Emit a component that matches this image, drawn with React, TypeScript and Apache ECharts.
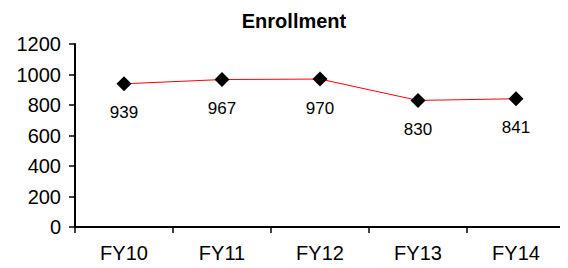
import React, { useEffect, useRef } from "react";
import * as echarts from "echarts";

const categories = ["FY10", "FY11", "FY12", "FY13", "FY14"];
const enrollment = [939, 967, 970, 830, 841];
const chartTitle = "Enrollment";

export default function App() {
  const ref = useRef<HTMLDivElement>(null);
  useEffect(() => {
    const chart = echarts.init(ref.current!, null, { renderer: "svg" });
    chart.setOption({
      animation: false,
      backgroundColor: "#ffffff",
      title: {
        text: chartTitle,
        left: 289,
        textAlign: "center",
        top: 6,
        textStyle: { fontFamily: "Liberation Sans, Arial", fontSize: 20, fontWeight: "bold", color: "#000" },
      },
      grid: { left: 75, right: 3, top: 44, bottom: 41, containLabel: false },
      xAxis: {
        type: "category",
        data: categories,
        boundaryGap: true,
        axisLine: { lineStyle: { color: "#000", width: 2 } },
        axisTick: { show: true, length: 6, lineStyle: { color: "#000", width: 1.5 } },
        axisLabel: { fontFamily: "Liberation Sans, Arial", fontSize: 20, color: "#000", margin: 16 },
      },
      yAxis: {
        type: "value",
        min: 0,
        max: 1200,
        interval: 200,
        splitLine: { show: false },
        axisLine: { show: true, lineStyle: { color: "#000", width: 2 } },
        axisTick: { show: true, length: 6, lineStyle: { color: "#000", width: 1.5 } },
        axisLabel: {
          fontFamily: "Liberation Sans, Arial",
          fontSize: 20,
          color: "#000",
          margin: 14,
          formatter: (v: number) => String(v),
        },
      },
      series: [
        {
          type: "line",
          data: enrollment,
          symbol: "diamond",
          symbolSize: 15,
          itemStyle: { color: "#000" },
          lineStyle: { color: "#ff0000", width: 1 },
          label: {
            show: true,
            position: "bottom",
            distance: 13,
            fontFamily: "Liberation Sans, Arial",
            fontSize: 17,
            color: "#000",
          },
        },
      ],
    });
    return () => chart.dispose();
  }, []);
  return <div ref={ref} style={{ width: 568, height: 268, margin: -8 }} />;
}
